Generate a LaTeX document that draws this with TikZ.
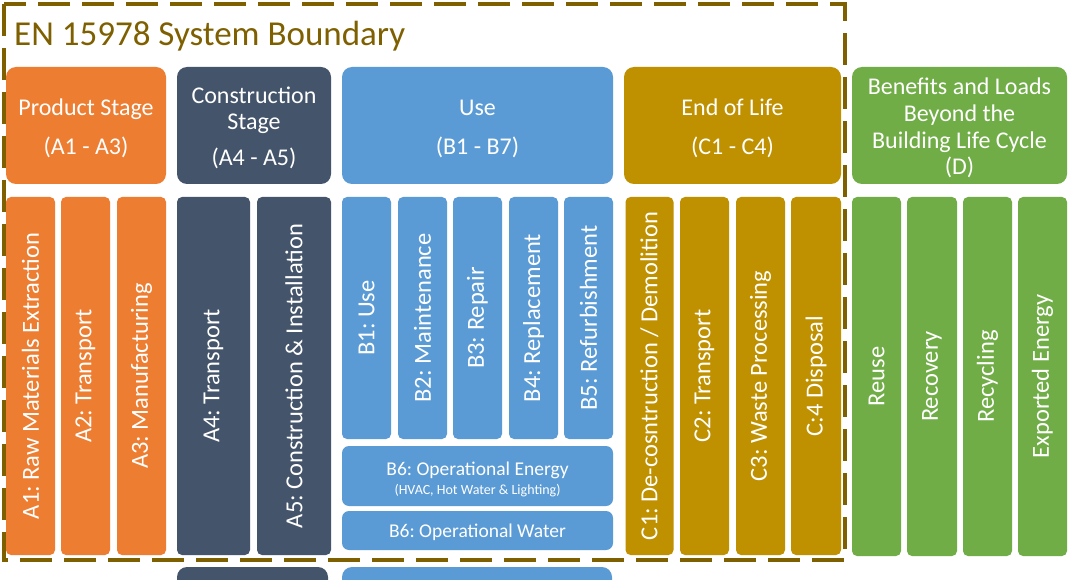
\documentclass[tikz,border=0pt]{standalone}
\usepackage{fontspec}
\setmainfont{Carlito}
\frenchspacing
\definecolor{cOrange}{HTML}{ED7D31}
\definecolor{cDark}{HTML}{44546A}
\definecolor{cBlue}{HTML}{5B9BD5}
\definecolor{cGold}{HTML}{BF9000}
\definecolor{cGreen}{HTML}{70AD47}
\definecolor{cLine}{HTML}{7F6000}
\tikzset{
  hdr/.style={rounded corners=10pt, inner sep=0pt, text=white, align=center,
    font=\fontsize{24}{39}\selectfont},
  hdrtext/.style={inner sep=0pt, text=white, align=center},
  colbox/.style={rounded corners=5pt, inner sep=0pt, text=white, rotate=90,
    font=\fontsize{24.5}{28}\selectfont},
  flatbox/.style={rounded corners=7pt, inner sep=0pt, text=white, align=center},
  boundary/.style={draw=cLine, line width=4pt, dash pattern=on 32pt off 12pt}
}
\begin{document}
\begin{tikzpicture}[x=1pt,y=-1pt]
\clip (0,0) rectangle (1068,580);
\fill[white] (0,0) rectangle (1068,580);

% headers
\node[hdr, fill=cOrange, minimum width=160, minimum height=117] (hA) at (86,125.5) {};
\node[hdrtext, font=\fontsize{24}{39}\selectfont] (hAt) at (86,128.5) {Product Stage\\(A1 - A3)};
\node[hdr, fill=cDark, minimum width=154, minimum height=117] (hAB) at (254,125.5) {};
\node[hdrtext, font=\fontsize{24}{26.5}\selectfont] (hABt) at (254,127.5) {Construction\\Stage\\[9pt](A4 - A5)};
\node[hdr, fill=cBlue, minimum width=271, minimum height=117] (hB) at (477.5,125.5) {};
\node[hdrtext, font=\fontsize{24}{39}\selectfont] (hBt) at (477.5,128.5) {Use\\(B1 - B7)};
\node[hdr, fill=cGold, minimum width=217, minimum height=117] (hC) at (732.5,125.5) {};
\node[hdrtext, font=\fontsize{24}{39}\selectfont] (hCt) at (732.5,128.5) {End of Life\\(C1 - C4)};
\node[hdr, fill=cGreen, minimum width=215, minimum height=117] (hD) at (959.5,125.5) {};
\node[hdrtext, font=\fontsize{24}{26.7}\selectfont] (hDt) at (959.5,128) {Benefits and Loads\\Beyond the\\Building Life Cycle\\(D)};

% A columns
\node[colbox, fill=cOrange, minimum width=358, minimum height=49] (a1) at (30.5,376) {A1: Raw Materials Extraction};
\node[colbox, fill=cOrange, minimum width=358, minimum height=49] (a2) at (85.5,376) {A2: Transport};
\node[colbox, fill=cOrange, minimum width=358, minimum height=49] (a3) at (141.5,376) {A3: Manufacturing};
\node[colbox, fill=cDark, minimum width=358, minimum height=73] (a4) at (213.5,376) {A4: Transport};
\node[colbox, fill=cDark, minimum width=358, minimum height=74] (a5) at (294,376) {A5: Construction \& Installation};

% B columns
\node[colbox, fill=cBlue, minimum width=242, minimum height=49] (b1) at (366.5,318) {B1: Use};
\node[colbox, fill=cBlue, minimum width=242, minimum height=49] (b2) at (422.5,318) {B2: Maintenance};
\node[colbox, fill=cBlue, minimum width=242, minimum height=49] (b3) at (477.5,318) {B3: Repair};
\node[colbox, fill=cBlue, minimum width=242, minimum height=49] (b4) at (533.5,318) {B4: Replacement};
\node[colbox, fill=cBlue, minimum width=242, minimum height=49] (b5) at (588.5,318) {B5: Refurbishment};
\node[flatbox, fill=cBlue, minimum width=271, minimum height=60] (b6e) at (477.5,476) {};
\node[text=white, inner sep=0pt, font=\fontsize{19.5}{22}\selectfont] (b6et) at (477.5,470) {B6: Operational Energy};
\node[text=white, inner sep=0pt, font=\fontsize{14}{16}\selectfont] (b6es) at (477.5,491) {(HVAC, Hot Water \& Lighting)};
\node[flatbox, fill=cBlue, minimum width=271, minimum height=39] (b6w) at (477.5,530.5) {};
\node[text=white, inner sep=0pt, font=\fontsize{19.5}{22}\selectfont] (b6wt) at (477.5,532.5) {B6: Operational Water};

% C columns
\node[colbox, fill=cGold, minimum width=358, minimum height=48] (c1) at (649.5,376) {C1: De-cosntruction / Demolition};
\node[colbox, fill=cGold, minimum width=358, minimum height=49] (c2) at (704.5,376) {C2: Transport};
\node[colbox, fill=cGold, minimum width=358, minimum height=49] (c3) at (760.5,376) {C3: Waste Processing};
\node[colbox, fill=cGold, minimum width=358, minimum height=50] (c4) at (816,376) {C:4 Disposal};

% D columns
\node[colbox, fill=cGreen, minimum width=359, minimum height=49] (d1) at (876.5,376.5) {Reuse};
\node[colbox, fill=cGreen, minimum width=359, minimum height=50] (d2) at (932,376.5) {Recovery};
\node[colbox, fill=cGreen, minimum width=359, minimum height=49] (d3) at (987.5,376.5) {Recycling};
\node[colbox, fill=cGreen, minimum width=359, minimum height=49] (d4) at (1042.5,376.5) {Exported Energy};

% cut-off boxes at the bottom
\node[rounded corners=10pt, fill=cDark, minimum width=151, minimum height=53, inner sep=0pt] (nextA) at (252.5,593.5) {};
\node[rounded corners=10pt, fill=cBlue, minimum width=270, minimum height=53, inner sep=0pt] (nextB) at (477,593.5) {};

% system boundary
\draw[boundary] (4,4) rectangle (845,560);
\node[anchor=base west, inner sep=0pt, text=cLine, font=\fontsize{35}{40}\selectfont] (title) at (14,46) {EN 15978 System Boundary};
\end{tikzpicture}
\end{document}
